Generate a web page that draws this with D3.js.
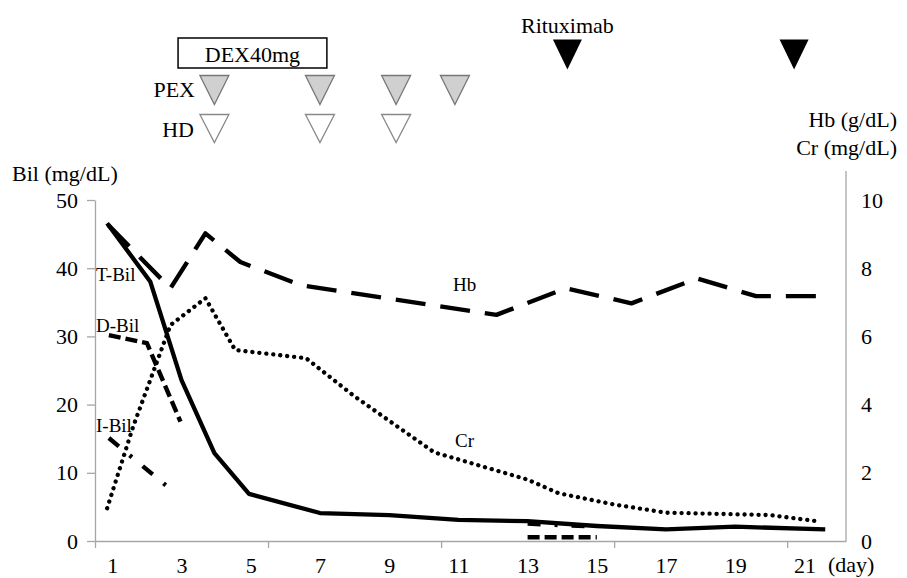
<html>

<head>
    <script src="https://cdnjs.cloudflare.com/ajax/libs/d3/7.8.5/d3.min.js"></script>
    <style>
        body { margin: 0; background: #fff; }
        text { font-family: "Liberation Serif", "Times New Roman", serif; fill: #000; }
    </style>
</head>

<body>
    <script>
        // series (x in days)
        var tbilDays = [0.85, 2.1, 3.0, 3.95, 4.95, 7, 9, 11, 13, 15, 17, 19, 21.6];
        var tbilVals = [46.6, 38.0, 23.6, 12.9, 6.9, 4.1, 3.8, 3.1, 2.9, 2.2, 1.7, 2.1, 1.7];

        var dbilDays = [0.9, 2.0, 2.97, 8, 13, 15];
        var dbilVals = [30.2, 29.0, 17.5, null, 0.55, 0.55];

        var ibilDays = [0.9, 2.68, 8, 13, 15];
        var ibilVals = [15.1, 7.6, null, 2.55, 2.1];

        var hbDays = [0.88, 2.68, 3.69, 4.7, 6.45, 12.1, 14.1, 16.0, 17.9, 19.6, 21.65];
        var hbVals = [9.27, 7.41, 9.02, 8.18, 7.5, 6.63, 7.41, 6.97, 7.7, 7.18, 7.18];

        var crDays = [0.85, 1.6, 2.68, 3.69, 4.55, 6.6, 8.0, 10.3, 13.0, 13.9, 15.5, 17.0, 20.0, 21.45];
        var crVals = [0.96, 3.35, 6.33, 7.12, 5.6, 5.36, 4.24, 2.6, 1.8, 1.4, 1.07, 0.83, 0.76, 0.57];

        var leftTicks = [0, 10, 20, 30, 40, 50];
        var rightTicks = [0, 2, 4, 6, 8, 10];
        var dayLabels = [1, 3, 5, 7, 9, 11, 13, 15, 17, 19, 21];
        var dayTicks = [0.5, 5.5, 10.5, 15.5, 20.5];

        // treatments
        var dexRange = [2.9, 7.2];
        var pexDays = [3.95, 7, 9.2, 10.9];
        var hdDays = [3.95, 7, 9.2];
        var rituxDays = [14.15, 20.7];

        var w = 907,
            h = 578;

        var x = d3.scaleLinear().domain([0.5, 22.2]).range([95, 846]);
        var yL = d3.scaleLinear().domain([0, 50]).range([541, 200]);
        var yR = d3.scaleLinear().domain([0, 10]).range([541, 200]);

        var svg = d3.select("body")
            .append("svg")
            .attr("width", w)
            .attr("height", h);

        var axisColor = "#a6a6a6";
        var serif = '"Liberation Serif", "Times New Roman", serif';

        function styleAxis(g) {
            g.attr("font-family", serif).attr("font-size", 22);
            g.selectAll("path.domain").attr("stroke", axisColor).attr("stroke-width", 1.3);
            g.selectAll(".tick line").attr("stroke", axisColor).attr("stroke-width", 1.3);
            g.selectAll(".tick text").attr("fill", "#000");
        }

        // left axis
        svg.append("g")
            .attr("transform", "translate(95,0)")
            .call(d3.axisLeft(yL).tickValues(leftTicks).tickSize(8).tickSizeOuter(0).tickPadding(9))
            .call(styleAxis);

        // right axis
        svg.append("line")
            .attr("x1", 846).attr("x2", 846)
            .attr("y1", 171).attr("y2", yR(0))
            .attr("stroke", axisColor).attr("stroke-width", 1.3);
        svg.append("g")
            .attr("transform", "translate(846,0)")
            .call(d3.axisRight(yR).tickValues(rightTicks).tickSize(0).tickPadding(15))
            .call(styleAxis)
            .call(function (g) { g.select("path.domain").remove(); });

        // x axis
        svg.append("g")
            .attr("transform", "translate(0,541)")
            .call(d3.axisBottom(x).tickValues(dayTicks).tickSize(7).tickSizeOuter(0).tickFormat(""))
            .call(styleAxis);
        svg.append("g")
            .attr("transform", "translate(0,541)")
            .call(d3.axisBottom(x).tickValues(dayLabels).tickSize(0).tickPadding(16))
            .call(styleAxis)
            .call(function (g) { g.select("path.domain").remove(); });

        svg.append("text").attr("x", 828).attr("y", 572).attr("font-size", 22).text("(day)");

        // axis titles
        svg.append("text").attr("x", 12).attr("y", 181).attr("font-size", 22).text("Bil (mg/dL)");
        svg.append("text").attr("x", 897).attr("y", 127).attr("font-size", 22)
            .attr("text-anchor", "end").text("Hb (g/dL)");
        svg.append("text").attr("x", 897).attr("y", 155).attr("font-size", 22)
            .attr("text-anchor", "end").text("Cr (mg/dL)");

        // lines
        function pts(days, vals) {
            return days.map(function (d, i) { return { day: d, v: vals[i] }; });
        }

        var lineL = d3.line()
            .defined(function (d) { return d.v != null; })
            .x(function (d) { return x(d.day); })
            .y(function (d) { return yL(d.v); });

        var lineR = d3.line()
            .x(function (d) { return x(d.day); })
            .y(function (d) { return yR(d.v); });

        svg.append("path")
            .attr("d", lineR(pts(crDays, crVals)))
            .attr("fill", "none").attr("stroke", "#000")
            .attr("stroke-width", 4.3).attr("stroke-linecap", "round")
            .attr("stroke-dasharray", "0.1,6.9");

        svg.append("path")
            .attr("d", lineR(pts(hbDays, hbVals)))
            .attr("fill", "none").attr("stroke", "#000")
            .attr("stroke-width", 4.4).attr("stroke-linejoin", "round")
            .attr("stroke-dasharray", "30,15");

        svg.append("path")
            .attr("d", lineL(pts(tbilDays, tbilVals)))
            .attr("fill", "none").attr("stroke", "#000")
            .attr("stroke-width", 4.3).attr("stroke-linejoin", "round");

        svg.append("path")
            .attr("d", lineL(pts(dbilDays, dbilVals)))
            .attr("fill", "none").attr("stroke", "#000")
            .attr("stroke-width", 4.4)
            .attr("stroke-dasharray", "12,5");

        svg.append("path")
            .attr("d", lineL(pts(ibilDays, ibilVals)))
            .attr("fill", "none").attr("stroke", "#000")
            .attr("stroke-width", 4.4)
            .attr("stroke-dasharray", "13,14,3,14");

        // inline labels
        var lbl = svg.append("g").attr("font-size", 19);
        lbl.append("text").attr("x", 96).attr("y", 281).text("T-Bil");
        lbl.append("text").attr("x", 96).attr("y", 332).text("D-Bil");
        lbl.append("text").attr("x", 96).attr("y", 432).text("I-Bil");
        lbl.append("text").attr("x", 453).attr("y", 291).text("Hb");
        lbl.append("text").attr("x", 455).attr("y", 447).text("Cr");

        // treatment markers
        function tri(cx, top, tw, th) {
            return "M" + (cx - tw / 2) + "," + top + "L" + (cx + tw / 2) + "," + top + "L" + cx + "," + (top + th) + "Z";
        }

        svg.append("rect")
            .attr("x", x(dexRange[0])).attr("y", 38)
            .attr("width", x(dexRange[1]) - x(dexRange[0])).attr("height", 30)
            .attr("fill", "#fff").attr("stroke", "#000").attr("stroke-width", 1.5);
        svg.append("text")
            .attr("x", (x(dexRange[0]) + x(dexRange[1])) / 2).attr("y", 62)
            .attr("text-anchor", "middle").attr("font-size", 22).text("DEX40mg");

        svg.append("text").attr("x", 195).attr("y", 97).attr("font-size", 22)
            .attr("text-anchor", "end").text("PEX");
        svg.append("text").attr("x", 194).attr("y", 137).attr("font-size", 22)
            .attr("text-anchor", "end").text("HD");

        svg.selectAll("path.pex")
            .data(pexDays)
            .enter()
            .append("path")
            .attr("class", "pex")
            .attr("d", function (d) { return tri(x(d), 75.5, 29, 29); })
            .attr("fill", "#d0d0d0").attr("stroke", "#777").attr("stroke-width", 1.3);

        svg.selectAll("path.hd")
            .data(hdDays)
            .enter()
            .append("path")
            .attr("class", "hd")
            .attr("d", function (d) { return tri(x(d), 114.5, 29, 28); })
            .attr("fill", "#fff").attr("stroke", "#888").attr("stroke-width", 1.3);

        svg.selectAll("path.rtx")
            .data(rituxDays)
            .enter()
            .append("path")
            .attr("class", "rtx")
            .attr("d", function (d) { return tri(x(d), 39.5, 29, 30); })
            .attr("fill", "#000");

        svg.append("text")
            .attr("x", x(rituxDays[0])).attr("y", 33)
            .attr("text-anchor", "middle").attr("font-size", 22).text("Rituximab");
    </script>
</body>

</html>
